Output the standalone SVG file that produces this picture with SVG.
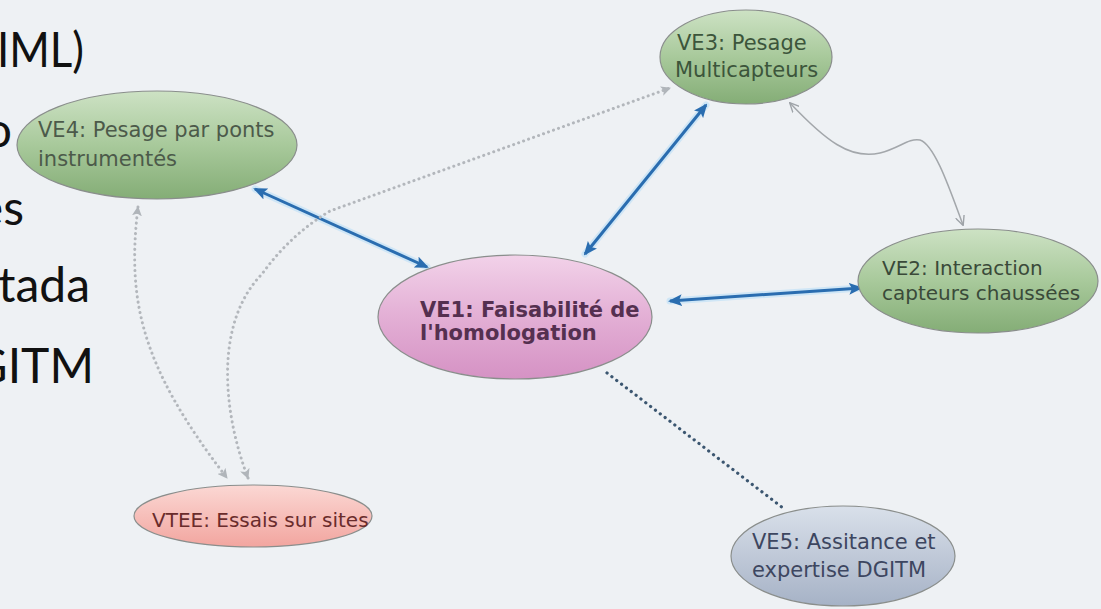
<svg xmlns="http://www.w3.org/2000/svg" width="1101" height="609" viewBox="0 0 1101 609">
<defs>
  <linearGradient id="gGreen" x1="0" y1="0" x2="0" y2="1">
    <stop offset="0" stop-color="#cde2c4"/>
    <stop offset="0.5" stop-color="#a8c99b"/>
    <stop offset="1" stop-color="#84ad76"/>
  </linearGradient>
  <linearGradient id="gPink" x1="0" y1="0" x2="0" y2="1">
    <stop offset="0" stop-color="#f2d2e9"/>
    <stop offset="0.5" stop-color="#e3afd5"/>
    <stop offset="1" stop-color="#d592c4"/>
  </linearGradient>
  <linearGradient id="gSalmon" x1="0" y1="0" x2="0" y2="1">
    <stop offset="0" stop-color="#fbd8d4"/>
    <stop offset="1" stop-color="#f2a59f"/>
  </linearGradient>
  <linearGradient id="gSlate" x1="0" y1="0" x2="0" y2="1">
    <stop offset="0" stop-color="#d9e0ea"/>
    <stop offset="1" stop-color="#a6b2c6"/>
  </linearGradient>
  <marker id="mBlue" viewBox="0 0 14 12" refX="12" refY="6" markerWidth="14" markerHeight="12" markerUnits="userSpaceOnUse" orient="auto-start-reverse">
    <path d="M0,0 L14,6 L0,12 L3,6 Z" fill="#2a6db0"/>
  </marker>
  <marker id="mGrayDot" viewBox="0 0 10 10" refX="9" refY="5" markerWidth="10" markerHeight="10" markerUnits="userSpaceOnUse" orient="auto-start-reverse">
    <path d="M0,0 L10,5 L0,10 L2.5,5 Z" fill="#b0b5ba"/>
  </marker>
  <marker id="mGrayLine" viewBox="0 0 10 10" refX="9" refY="5" markerWidth="10" markerHeight="10" markerUnits="userSpaceOnUse" orient="auto-start-reverse">
    <path d="M0,0.5 L9.5,5 L0,9.5" fill="none" stroke="#9ea3a8" stroke-width="1.4"/>
  </marker>
</defs>
<style>
  .frag { font-family: Lato, "Liberation Sans", Arial, sans-serif; font-size: 48px; fill: #111111; }
  .end { text-anchor: end; }
  .node { stroke: #8a8e8c; stroke-width: 1.2; }
  .lbl { font-family: "DejaVu Sans", Verdana, sans-serif; font-size: 21px; }
  .sm { font-size: 20px; }
  .blue { fill: none; stroke: #2a6db0; stroke-width: 3; }
  .halo { fill: none; stroke: #cfe6f6; stroke-width: 7; stroke-linecap: round; }
  .graydot { fill: none; stroke: #b3b7bc; stroke-width: 3; stroke-dasharray: 0.1 5.2; stroke-linecap: round; }
  .navydot { fill: none; stroke: #3b5670; stroke-width: 3.2; stroke-dasharray: 0.1 6; stroke-linecap: round; }
  .grayline { fill: none; stroke: #a3a7ab; stroke-width: 1.5; }
</style>
<rect x="0" y="0" width="1101" height="609" fill="#eef1f4"/>

<g id="slide-text">
  <text class="frag" x="-3" y="67" textLength="87" lengthAdjust="spacingAndGlyphs">IML)</text>
  <text class="frag end" x="12" y="147">o</text>
  <text class="frag end" x="24" y="225">es</text>
  <text class="frag end" x="90" y="302">tada</text>
  <text class="frag end" x="94" y="383">GITM</text>
</g>

<g id="connectors">
  <line class="halo" x1="255" y1="189" x2="427" y2="267"/>
  <line class="halo" x1="706" y1="105" x2="585" y2="254"/>
  <line class="halo" x1="670" y1="301" x2="861" y2="288"/>
  <line class="blue" x1="255" y1="189" x2="427" y2="267" marker-start="url(#mBlue)" marker-end="url(#mBlue)"/>
  <line class="blue" x1="706" y1="105" x2="585" y2="254" marker-start="url(#mBlue)" marker-end="url(#mBlue)"/>
  <line class="blue" x1="670" y1="301" x2="861" y2="288" marker-start="url(#mBlue)" marker-end="url(#mBlue)"/>
  <line class="navydot" x1="607" y1="373" x2="783" y2="508"/>
  <path class="graydot" d="M138,207 C127,300 140,365 227,478" marker-start="url(#mGrayDot)" marker-end="url(#mGrayDot)"/>
  <path class="graydot" d="M248,478 C222,410 215,322 262,274 Q290,235 330,211 L670,88" marker-start="url(#mGrayDot)" marker-end="url(#mGrayDot)"/>
  <path class="grayline" d="M790,103 C825,140 850,160 880,153 C900,148 908,138 920,140 C935,145 950,190 963,225" marker-start="url(#mGrayLine)" marker-end="url(#mGrayLine)"/>
</g>

<g id="node-ve4">
  <ellipse class="node" cx="157" cy="145" rx="140" ry="54" fill="url(#gGreen)"/>
  <text class="lbl" fill="#4c5a4a"><tspan x="38" y="137">VE4: Pesage par ponts</tspan><tspan x="38" y="166">instrumentés</tspan></text>
</g>

<g id="node-ve3">
  <ellipse class="node" cx="746" cy="57" rx="86" ry="47" fill="url(#gGreen)"/>
  <text class="lbl" fill="#3c553b"><tspan x="677" y="50">VE3: Pesage</tspan><tspan x="675" y="77">Multicapteurs</tspan></text>
</g>

<g id="node-ve1">
  <ellipse class="node" cx="515" cy="317" rx="137" ry="62" fill="url(#gPink)"/>
  <text class="lbl" font-weight="bold" fill="#553050"><tspan x="420" y="317">VE1: Faisabilité de</tspan><tspan x="420" y="340">l'homologation</tspan></text>
</g>

<g id="node-ve2">
  <ellipse class="node" cx="978" cy="281" rx="120" ry="52" fill="url(#gGreen)"/>
  <text class="lbl sm" fill="#3a4a39"><tspan x="882" y="275">VE2: Interaction</tspan><tspan x="882" y="300">capteurs chaussées</tspan></text>
</g>

<g id="node-ve5">
  <ellipse class="node" cx="843" cy="556" rx="112" ry="50" fill="url(#gSlate)"/>
  <text class="lbl" fill="#3d4660"><tspan x="752" y="549">VE5: Assitance et</tspan><tspan x="752" y="577">expertise DGITM</tspan></text>
</g>

<g id="node-vtee">
  <ellipse class="node" cx="253" cy="516" rx="119" ry="31" fill="url(#gSalmon)"/>
  <text class="lbl sm" fill="#6a2c2c" x="152" y="527">VTEE: Essais sur sites</text>
</g>
</svg>
